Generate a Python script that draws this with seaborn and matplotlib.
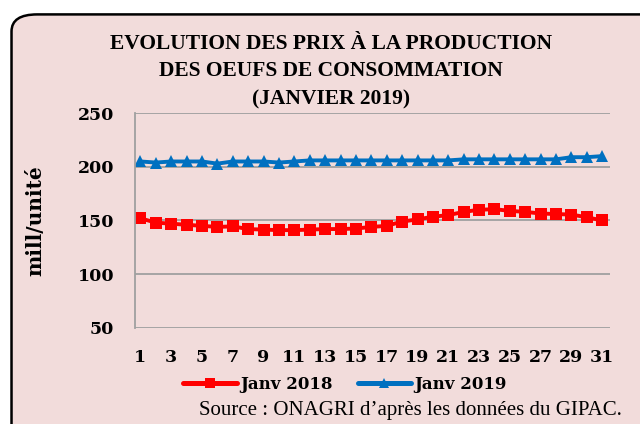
import pandas as pd
import matplotlib.pyplot as plt
import seaborn as sns
from matplotlib.patches import FancyBboxPatch

# Data
days = list(range(1, 32))
janv_2018 = [152, 148, 147, 146, 145, 144, 144.5, 142, 141.5, 141, 141, 141.5, 142, 142, 142.5, 144,
             145, 149, 151, 153.5, 155, 158, 160, 160.5, 159, 158, 156.5, 156, 155.5, 153, 150]
janv_2019 = [205, 204, 205, 205, 205, 203, 205, 205, 205, 204, 205, 206, 206, 206, 206, 206,
             206, 206, 206, 206, 206, 207, 207, 207, 207, 207, 207, 207, 209, 209, 210]
series_names = ["Janv 2018", "Janv 2019"]
y_ticks = [50, 100, 150, 200, 250]
x_ticks = list(range(1, 32, 2))

df = pd.DataFrame({"day": days * 2,
                   "value": janv_2018 + janv_2019,
                   "serie": [series_names[0]] * 31 + [series_names[1]] * 31})

sns.set_style("white")
plt.rcParams['font.family'] = ['Liberation Serif', 'DejaVu Serif']
plt.rcParams['text.color'] = 'black'
plt.rcParams['xtick.color'] = 'black'
plt.rcParams['ytick.color'] = 'black'

bg = '#f2dcdb'
wide = 'DejaVu Serif'   # closer to the wide bold digits of the original

fig = plt.figure(figsize=(6.4, 4.24), dpi=100)
fig.patch.set_facecolor('white')

# rounded frame of the chart
box = FancyBboxPatch((0.018, -0.1), 1.1, 1.066, boxstyle="round,pad=0,rounding_size=0.04",
                     transform=fig.transFigure, facecolor=bg, edgecolor='black', linewidth=1.8,
                     zorder=-1)
fig.patches.append(box)

ax = fig.add_axes([0.211, 0.227, 0.742, 0.506])
ax.set_facecolor(bg)

sns.lineplot(data=df, x="day", y="value", hue="serie", style="serie",
             palette={"Janv 2018": "#ff0000", "Janv 2019": "#0070c0"},
             markers={"Janv 2018": "s", "Janv 2019": "^"},
             dashes=False, linewidth=2.8, markersize=8, markeredgewidth=0,
             ax=ax)

ax.set_xlim(0.65, 31.5)
ax.set_ylim(50, 250)
ax.set_yticks(y_ticks)
ax.set_xticks(x_ticks)
ax.yaxis.grid(True, color='#a0a0a0', linewidth=1.3)
ax.xaxis.grid(False)
ax.set_axisbelow(True)
for s in ['top', 'right', 'bottom']:
    ax.spines[s].set_visible(False)
ax.spines['left'].set_color('#a0a0a0')
ax.spines['left'].set_linewidth(1.3)
ax.tick_params(axis='x', length=0, pad=15)
ax.tick_params(axis='y', length=0, pad=15)
for lab in ax.get_xticklabels() + ax.get_yticklabels():
    lab.set_fontweight('bold')
    lab.set_family(wide)
    lab.set_fontsize(12.5)
ax.set_xlabel("")
ax.set_ylabel("")

fig.text(0.055, 0.48, "mill/unité", rotation=90, ha='center', va='center',
         fontsize=14.5, fontweight='bold', family=wide)

title_lines = ["EVOLUTION DES PRIX À LA PRODUCTION", "DES OEUFS DE CONSOMMATION", "(JANVIER 2019)"]
for i, line in enumerate(title_lines):
    fig.text(0.517, 1 - (44 + 27.5 * i) / 424, line, ha='center', va='center',
             fontsize=15.5, fontweight='bold')

ax.legend_.remove()
handles, labels = ax.get_legend_handles_labels()
leg = fig.legend(handles, labels, loc='center', bbox_to_anchor=(0.539, 0.094), ncol=2,
                 frameon=False, handlelength=3.2, handletextpad=0.2, columnspacing=1.5,
                 prop={'size': 12, 'weight': 'bold', 'family': wide})
for h in leg.legend_handles:
    h.set_linewidth(3.6)
    h.set_markersize(7)

fig.text(0.972, 0.033, "Source : ONAGRI d\u2019après les données du GIPAC.", ha='right', va='center',
         fontsize=15)

fig.savefig("out.png", dpi=100, facecolor=fig.get_facecolor())
